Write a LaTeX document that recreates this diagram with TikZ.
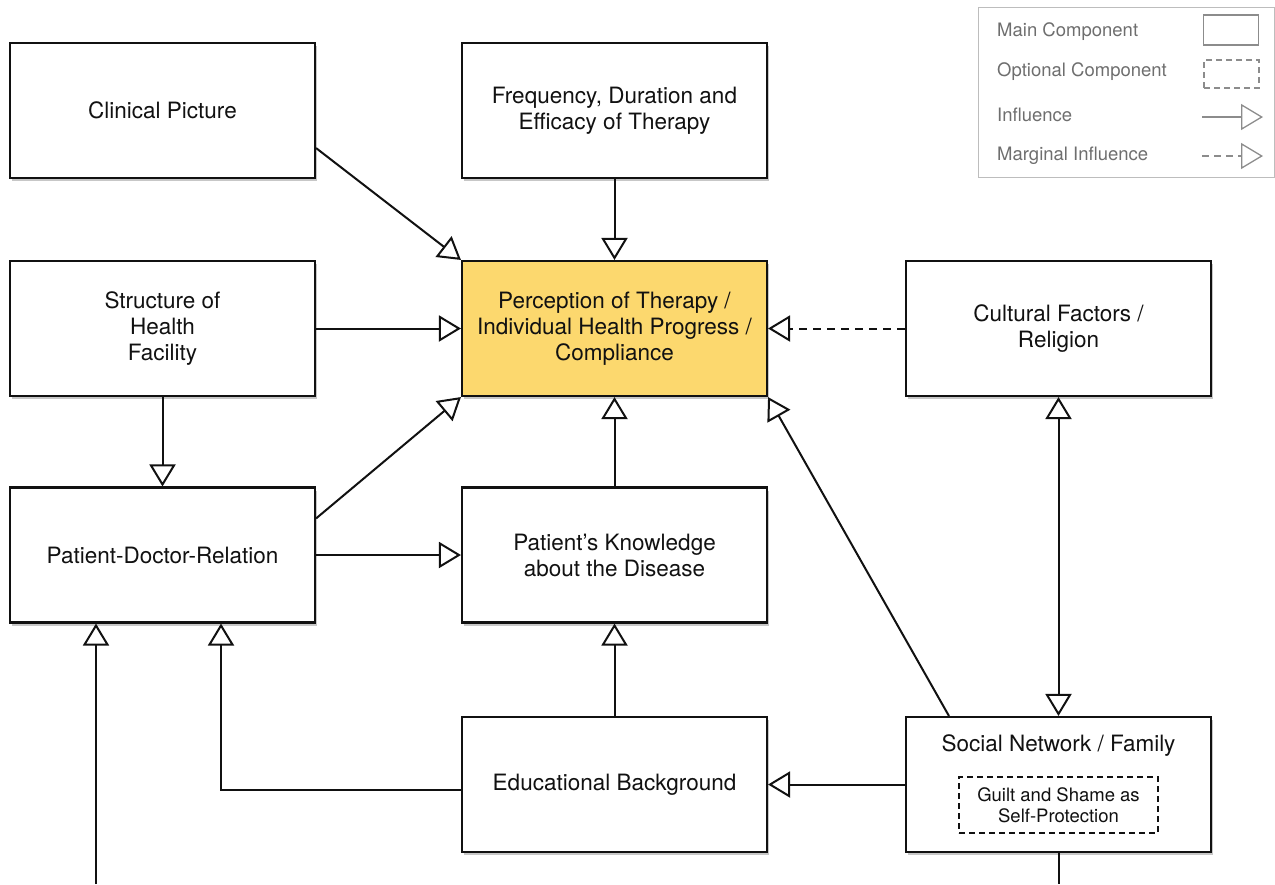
\documentclass[tikz,border=0pt]{standalone}
\usepackage{fontspec}
\setmainfont{TeX Gyre Heros}
\usetikzlibrary{arrows.meta,calc,shadows}
\definecolor{boxyellow}{HTML}{FCD86E}
\definecolor{leggray}{HTML}{8C8C8C}
\definecolor{legborder}{HTML}{BDBDBD}
\definecolor{legtext}{HTML}{6E6E6E}
\definecolor{ink}{HTML}{111111}
\begin{document}
\begin{tikzpicture}[x=1pt,y=-1pt,
  box/.style={draw=ink, line width=2.1pt, fill=white, minimum width=305pt, minimum height=135pt,
    align=center, inner sep=0pt, text=ink, font=\fontsize{22.5}{26}\selectfont,
    drop shadow={shadow xshift=2pt,shadow yshift=-3pt,opacity=0.22,fill=black}},
  tipA/.tip={Triangle[open,length=22pt,width=26pt]},
  infl/.style={draw=ink, line width=2pt, -tipA},
  marg/.style={infl, dash pattern=on 8pt off 6pt},
  legtxt/.style={anchor=west, text=legtext, font=\fontsize{18.5}{22}\selectfont, inner sep=0pt},
  leginfl/.style={draw=leggray, line width=1.3pt, -{Triangle[open,length=22pt,width=26pt]}},
]
\useasboundingbox (0,0) rectangle (1275,884);

% main boxes
\node[box] (clin) at (162.5,110.5) {Clinical Picture};
\node[box] (freq) at (614.5,110.5) {Frequency, Duration and\\Efficacy of Therapy};
\node[box] (struc) at (162.5,328.5) {Structure of\\Health\\Facility};
\node[box, fill=boxyellow] (perc) at (614.5,328.5) {Perception of Therapy /\\Individual Health Progress /\\Compliance};
\node[box] (cult) at (1058.5,328.5) {Cultural Factors /\\Religion};
\node[box] (pd) at (162.5,555) {Patient-Doctor-Relation};
\node[box] (know) at (614.5,555) {Patient's Knowledge\\about the Disease};
\node[box] (edu) at (614.5,784.5) {Educational Background};
\node[box] (soc) at (1058.5,784.5) {};
\node[text=ink, font=\fontsize{22.5}{26}\selectfont, inner sep=0pt] (soct) at (1058.5,746) {Social Network / Family};
\node[draw=ink, line width=1.6pt, dash pattern=on 6pt off 4pt, minimum width=199pt, minimum height=56pt,
  align=center, inner sep=0pt, text=ink, font=\fontsize{18.5}{21}\selectfont] (guilt) at (1058.5,805) {Guilt and Shame as\\Self-Protection};

% connectors
\draw[infl] ($(clin.south east)+(0,-31)$) -- (perc.north west);
\draw[infl] (freq.south) -- (perc.north);
\draw[infl] (struc.east) -- (perc.west);
\draw[marg] (cult.west) -- (perc.east);
\draw[infl] (struc.south) -- (pd.north);
\draw[infl] ($(pd.north east)+(0,32)$) -- (perc.south west);
\draw[infl] (pd.east) -- (know.west);
\draw[infl] (know.north) -- (perc.south);
\draw[infl] ($(soc.north west)+(44,0)$) -- (perc.south east);
\draw[infl, tipA-tipA] (soc.north) -- (cult.south);
\draw[infl] (edu.north) -- (know.south);
\draw[infl] (soc.west) -- (edu.east);
\draw[infl] ($(edu.west)+(0,5)$) -| ($(pd.south)+(58.5,0)$);
\coordinate (b1) at (96,884);
\draw[infl] (b1) -- (pd.south -| b1);
\coordinate (b2) at (1058.5,884);
\draw[draw=ink, line width=2pt] (soc.south) -- (b2);

% legend
\node[draw=legborder, line width=1.2pt, minimum width=296pt, minimum height=170pt, anchor=north west, inner sep=0pt] (leg) at (978,7) {};
\node[legtxt] (l1) at (997,32) {Main Component};
\node[legtxt] (l2) at (997,72) {Optional Component};
\node[legtxt] (l3) at (997,115) {Influence};
\node[legtxt] (l4) at (997,156) {Marginal Influence};
\node[draw=leggray, line width=1.3pt, minimum width=55pt, minimum height=30pt, inner sep=0pt] (lm) at (1231,30) {};
\node[draw=leggray, line width=1.3pt, dash pattern=on 6pt off 4pt, minimum width=55pt, minimum height=28pt, inner sep=0pt] (lo) at (1231.5,74) {};
\coordinate (li1) at (1202,117);
\coordinate (li2) at (1263,117);
\draw[leginfl] (li1) -- (li2);
\coordinate (lmi1) at (1202,156);
\coordinate (lmi2) at (1263,156);
\draw[leginfl, dash pattern=on 7pt off 5pt] (lmi1) -- (lmi2);
\end{tikzpicture}
\end{document}
